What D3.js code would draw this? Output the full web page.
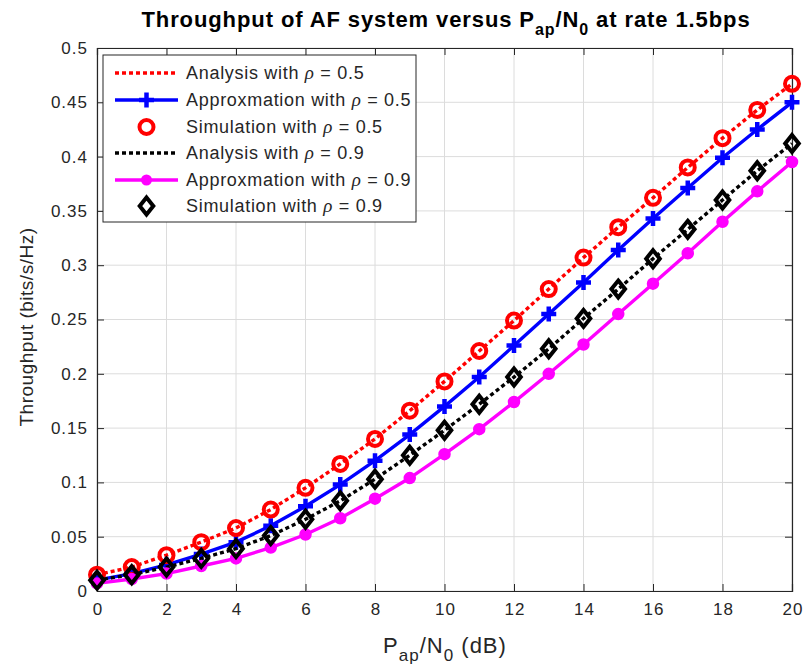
<!DOCTYPE html>
<html><head><meta charset="utf-8">
<script src="https://cdn.jsdelivr.net/npm/d3@7"></script>
<style>
body{margin:0;background:#fff;}
svg text{font-family:"Liberation Sans",Arial,Helvetica,sans-serif;}
</style></head>
<body><svg id="c" width="805" height="670"></svg>
<script>
const snr = [0,1,2,3,4,5,6,7,8,9,10,11,12,13,14,15,16,17,18,19,20];
const analysis05 = [0.015,0.022,0.033,0.045,0.058,0.075,0.095,0.117,0.140,0.166,0.193,0.221,0.249,0.278,0.307,0.335,0.362,0.390,0.417,0.443,0.467];
const approx05   = [0.010,0.016,0.024,0.034,0.045,0.060,0.078,0.098,0.120,0.144,0.170,0.197,0.226,0.255,0.284,0.314,0.343,0.371,0.399,0.425,0.450];
const sim05      = [0.015,0.022,0.033,0.045,0.058,0.075,0.095,0.117,0.140,0.166,0.193,0.221,0.249,0.278,0.307,0.335,0.362,0.390,0.417,0.443,0.467];
const analysis09 = [0.010,0.015,0.022,0.030,0.039,0.051,0.066,0.083,0.103,0.125,0.148,0.172,0.197,0.223,0.251,0.278,0.306,0.333,0.360,0.387,0.412];
const approx09   = [0.007,0.011,0.016,0.023,0.030,0.040,0.052,0.067,0.085,0.104,0.126,0.149,0.174,0.200,0.227,0.255,0.283,0.311,0.340,0.368,0.395];
const sim09      = [0.010,0.015,0.022,0.030,0.039,0.051,0.066,0.083,0.103,0.125,0.148,0.172,0.197,0.223,0.251,0.278,0.306,0.333,0.360,0.387,0.412];
const xTicks = [0,2,4,6,8,10,12,14,16,18,20];
const yTicks = [0,0.05,0.1,0.15,0.2,0.25,0.3,0.35,0.4,0.45,0.5];
const legendLabels = ["Analysis with ","Approxmation with ","Simulation with ","Analysis with ","Approxmation with ","Simulation with "];
const legendRho = ["0.5","0.5","0.5","0.9","0.9","0.9"];

const svg = d3.select("#c");
const L=97, R=792, T=48, B=591;
const x = d3.scaleLinear().domain([0,20]).range([L,R]);
const y = d3.scaleLinear().domain([0,0.5]).range([B,T]);
const axisCol="#262626";

// grid
const g = svg.append("g");
g.selectAll(".gx").data(xTicks).enter().append("line")
 .attr("x1",d=>x(d)).attr("x2",d=>x(d)).attr("y1",T).attr("y2",B)
 .attr("stroke","#dcdcdc").attr("stroke-width",1);
g.selectAll(".gy").data(yTicks).enter().append("line")
 .attr("y1",d=>y(d)).attr("y2",d=>y(d)).attr("x1",L).attr("x2",R)
 .attr("stroke","#dcdcdc").attr("stroke-width",1);

// axes
const fmt = d=>d3.format("~g")(d);
const xa = svg.append("g").attr("transform",`translate(0,${B})`)
 .call(d3.axisBottom(x).tickValues(xTicks).tickSize(-7).tickPadding(12).tickFormat(fmt));
const xt = svg.append("g").attr("transform",`translate(0,${T})`)
 .call(d3.axisTop(x).tickValues(xTicks).tickSize(-7).tickFormat(""));
const ya = svg.append("g").attr("transform",`translate(${L},0)`)
 .call(d3.axisLeft(y).tickValues(yTicks).tickSize(-7).tickPadding(10).tickFormat(fmt));
const yr = svg.append("g").attr("transform",`translate(${R},0)`)
 .call(d3.axisRight(y).tickValues(yTicks).tickSize(-7).tickFormat(""));
[xa,xt,ya,yr].forEach(a=>{
  a.selectAll("path").attr("stroke",axisCol).attr("stroke-width",1.2);
  a.selectAll("line").attr("stroke",axisCol);
  a.selectAll("text").attr("fill",axisCol).style("font-size","17px").style("letter-spacing","1px");
});
xa.selectAll("text").attr("dx","0.5px");
ya.selectAll("text").attr("dx","1px");

const line = d3.line().x((d,i)=>x(snr[i])).y(d=>y(d));
const plot = svg.append("g");

function drawLine(data,color,dash){
  plot.append("path").datum(data).attr("d",line).attr("fill","none")
   .attr("stroke",color).attr("stroke-width",3.4).attr("stroke-dasharray",dash||null);
}
function plusPath(cx,cy,s){return `M${cx-s},${cy}H${cx+s}M${cx},${cy-s}V${cy+s}`;}
function diamond(cx,cy,s){return `M${cx},${cy-s}L${cx+s*0.8},${cy}L${cx},${cy+s}L${cx-s*0.8},${cy}Z`;}

drawLine(analysis05,"#ff0000","4,3");
drawLine(approx05,"#0000ff");
plot.selectAll(".p05").data(approx05).enter().append("path")
 .attr("d",(d,i)=>plusPath(x(snr[i]),y(d),7.5)).attr("stroke","#0000ff").attr("stroke-width",4.5).attr("fill","none");
plot.selectAll(".s05").data(sim05).enter().append("circle")
 .attr("cx",(d,i)=>x(snr[i])).attr("cy",d=>y(d)).attr("r",7)
 .attr("fill","none").attr("stroke","#ff0000").attr("stroke-width",4);
drawLine(analysis09,"#000000","4,3");
drawLine(approx09,"#ff00ff");
plot.selectAll(".a09").data(approx09).enter().append("circle")
 .attr("cx",(d,i)=>x(snr[i])).attr("cy",d=>y(d)).attr("r",5.5)
 .attr("fill","#ff00ff").attr("stroke","#ff00ff").attr("stroke-width",1.5);
plot.selectAll(".s09").data(sim09).enter().append("path")
 .attr("d",(d,i)=>diamond(x(snr[i]),y(d),8.5)).attr("fill","none")
 .attr("stroke","#000000").attr("stroke-width",4);

// legend
const lg = svg.append("g");
lg.append("rect").attr("x",103).attr("y",55).attr("width",313).attr("height",167)
 .attr("fill","#fff").attr("stroke",axisCol).attr("stroke-width",1);
const rowY = [73,100,127,153,180,206];
const lx1=115, lx2=178, lm=(lx1+lx2)/2;
const styles = [
 {c:"#ff0000",dash:"4,3",line:true,m:null},
 {c:"#0000ff",line:true,m:"plus"},
 {c:"#ff0000",line:false,m:"circle"},
 {c:"#000000",dash:"4,3",line:true,m:null},
 {c:"#ff00ff",line:true,m:"dot"},
 {c:"#000000",line:false,m:"diamond"}
];
styles.forEach((s,i)=>{
  const yy=rowY[i];
  if(s.line) lg.append("line").attr("x1",lx1).attr("x2",lx2).attr("y1",yy).attr("y2",yy)
    .attr("stroke",s.c).attr("stroke-width",3.4).attr("stroke-dasharray",s.dash||null);
  if(s.m==="plus") lg.append("path").attr("d",plusPath(lm,yy,7.5)).attr("stroke",s.c).attr("stroke-width",4.5);
  if(s.m==="circle") lg.append("circle").attr("cx",lm).attr("cy",yy).attr("r",7).attr("fill","none").attr("stroke",s.c).attr("stroke-width",4);
  if(s.m==="dot") lg.append("circle").attr("cx",lm).attr("cy",yy).attr("r",5.5).attr("fill",s.c);
  if(s.m==="diamond") lg.append("path").attr("d",diamond(lm,yy,8.5)).attr("fill","none").attr("stroke",s.c).attr("stroke-width",4);
  const t = lg.append("text").attr("x",186).attr("y",yy+6).attr("fill",axisCol)
    .style("font-size","18px").style("letter-spacing","0.7px");
  t.append("tspan").text(legendLabels[i]);
  t.append("tspan").text("ρ").style("font-style","italic").style("font-family","'Liberation Serif','Times New Roman',serif").style("font-size","19px");
  t.append("tspan").text(" = "+legendRho[i]);
});

// title
const title = svg.append("text").attr("x",446).attr("y",27).attr("text-anchor","middle")
 .attr("fill","#000").style("font-size","22px").style("font-weight","bold").style("letter-spacing","0.9px");
title.append("tspan").text("Throughput of AF system versus P");
title.append("tspan").text("ap").attr("dy",8).style("font-size","16px");
title.append("tspan").text("/N").attr("dy",-8);
title.append("tspan").text("0").attr("dy",8).style("font-size","16px");
title.append("tspan").text(" at rate 1.5bps").attr("dy",-8);

// x label
const xl = svg.append("text").attr("x",445).attr("y",653).attr("text-anchor","middle")
 .attr("fill",axisCol).style("font-size","22px").style("letter-spacing","1px");
xl.append("tspan").text("P");
xl.append("tspan").text("ap").attr("dy",8).style("font-size","17px");
xl.append("tspan").text("/N").attr("dy",-8);
xl.append("tspan").text("0").attr("dy",8).style("font-size","17px");
xl.append("tspan").text(" (dB)").attr("dy",-8);

// y label
svg.append("text").attr("transform","translate(33,327) rotate(-90)").attr("text-anchor","middle")
 .attr("fill",axisCol).style("font-size","19px").style("letter-spacing","0.5px").text("Throughput (bits/s/Hz)");
</script></body></html>
